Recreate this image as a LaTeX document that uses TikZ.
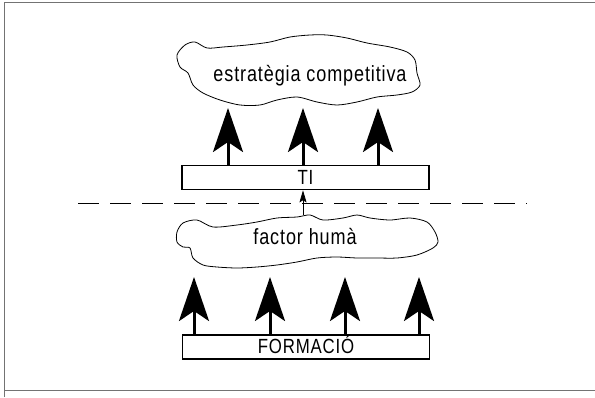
\documentclass[tikz,border=0pt]{standalone}
\usepackage{fontspec}
\setmainfont{Liberation Sans}
\newfontfamily\labfont[FakeStretch=0.82,LetterSpace=4]{Liberation Sans}
\usetikzlibrary{arrows.meta}
\begin{document}
\begin{tikzpicture}[x=1pt,y=-1pt,
        cloud/.style={draw,line width=0.8pt},
        bar/.style={draw,line width=1.6pt,minimum width=247pt,minimum height=24pt,inner sep=0pt,text height=13pt,text depth=0pt,font=\labfont\fontsize{20.5}{22}\selectfont},
        lbl/.style={font=\labfont\fontsize{22}{24}\selectfont},
        bigarrow/.style={line width=3pt,-{Stealth[length=44pt,width=30pt,inset=10pt]}},
        smallarrow/.style={line width=0.8pt,-{Stealth[length=12pt,width=7pt,inset=2pt]}},
        frame/.style={draw=black!55,line width=1pt}]
        \useasboundingbox (0,0) rectangle (595,397);
        \path[frame] (4,397) -- (4,2) -- (595,2);
        \path[frame] (4,390) -- (595,390);

        % clouds
        \path[cloud] plot[smooth cycle] coordinates {(177,55) (185,45) (195,42) (207,48) (223,47) (247,45) (270,42) (290,37) (310,35) (327,35) (347,38) (367,43) (390,47) (407,52) (415,60) (417,73) (420,85) (412,92) (397,95) (377,97) (357,102) (337,105) (317,102) (297,97) (277,100) (260,105) (240,105) (220,100) (203,93) (193,85) (188,73) (180,67)};
        \path[cloud] plot[smooth cycle] coordinates {(177,232) (183,223) (197,220) (213,227) (237,225) (257,222) (277,218) (297,217) (310,215) (323,220) (343,218) (357,215) (370,218) (390,220) (410,218) (427,222) (435,232) (438,242) (433,248) (417,255) (397,258) (377,258) (357,258) (337,257) (317,258) (297,262) (277,265) (257,267) (237,268) (217,267) (203,265) (193,258) (190,248) (183,247) (177,242)};

        \node[lbl,anchor=base] (strat) at (310,81) {estratègia competitiva};
        \node[lbl,anchor=base] (huma) at (305,244) {factor humà};
        \node[bar] (ti) at (305.5,177.5) {TI};
        \node[bar] (form) at (306,347) {FORMACIÓ};

        \coordinate (a1) at (228,108);
        \coordinate (a2) at (303,108);
        \coordinate (a3) at (378,108);
        \coordinate (b1) at (194,277);
        \coordinate (b2) at (270,277);
        \coordinate (b3) at (345,277);
        \coordinate (b4) at (419,277);
        \coordinate (c) at (303,215);

        \path[draw,bigarrow] (ti.north -| a1) -- (a1);
        \path[draw,bigarrow] (ti.north -| a2) -- (a2);
        \path[draw,bigarrow] (ti.north -| a3) -- (a3);
        \path[draw,bigarrow] (form.north -| b1) -- (b1);
        \path[draw,bigarrow] (form.north -| b2) -- (b2);
        \path[draw,bigarrow] (form.north -| b3) -- (b3);
        \path[draw,bigarrow] (form.north -| b4) -- (b4);
        \path[draw,smallarrow] (c) -- (ti.south -| c);

        % divider
        \path[draw,line width=0.9pt,dash pattern=on 21pt off 11pt] (78,203) -- (527,203);
    \end{tikzpicture}
\end{document}
